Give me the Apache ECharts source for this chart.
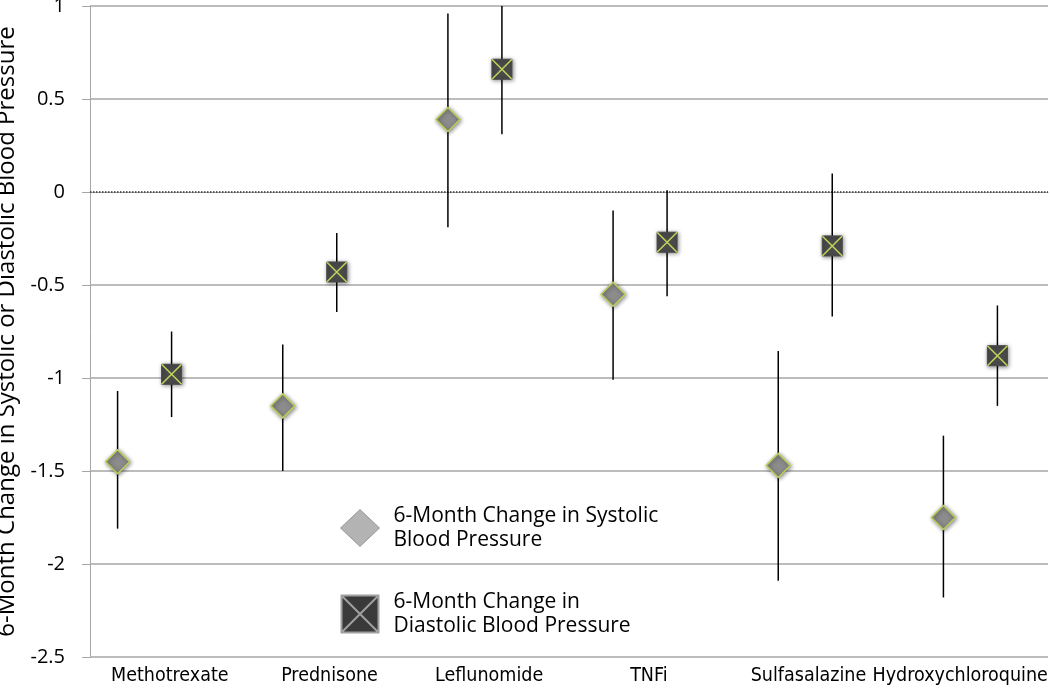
<!DOCTYPE html>
<html>
<head>
<meta charset="utf-8">
<script src="https://cdn.jsdelivr.net/npm/echarts@6/dist/echarts.min.js"></script>
<style>
html,body{margin:0;padding:0;background:#fff;}
#chart{width:1050px;height:689px;}
</style>
</head>
<body>
<div id="chart"></div>
<script>
const categories = ['Methotrexate', 'Prednisone', 'Leflunomide', 'TNFi', 'Sulfasalazine', 'Hydroxychloroquine'];
const systolicMean = [-1.45, -1.15, 0.39, -0.55, -1.47, -1.75];
const systolicLow  = [-1.81, -1.50, -0.19, -1.01, -2.09, -2.18];
const systolicHigh = [-1.07, -0.82, 0.96, -0.10, -0.855, -1.31];
const diastolicMean = [-0.98, -0.43, 0.66, -0.27, -0.29, -0.88];
const diastolicLow  = [-1.21, -0.645, 0.31, -0.56, -0.67, -1.15];
const diastolicHigh = [-0.75, -0.22, 1.0, 0.01, 0.10, -0.61];
const seriesNames = ['6-Month Change in Systolic Blood Pressure', '6-Month Change in Diastolic Blood Pressure'];
const legendLabels = ['6-Month Change in Systolic\nBlood Pressure', '6-Month Change in\nDiastolic Blood Pressure'];
const yAxisTitle = '6-Month Change in Systolic or Diastolic Blood Pressure';

const FONT = 'Open Sans';
const chart = echarts.init(document.getElementById('chart'));

function makeData(mean, low, high) {
  return mean.map((m, i) => [i, m, low[i], high[i]]);
}

function renderer(kind, offset) {
  return function (params, api) {
    const idx = api.value(0);
    const p = api.coord([idx, api.value(1)]);
    const lo = api.coord([idx, api.value(2)]);
    const hi = api.coord([idx, api.value(3)]);
    const cx = p[0] + offset, cy = p[1];
    const children = [{
      type: 'line',
      shape: {x1: cx, y1: lo[1], x2: cx, y2: hi[1]},
      style: {stroke: '#000', lineWidth: 1.5}
    }];
    const shadow = {shadowBlur: 4, shadowColor: 'rgba(0,0,0,0.45)', shadowOffsetX: 1, shadowOffsetY: 1};
    if (kind === 'diamond') {
      const r = 12;
      children.push({
        type: 'polygon',
        shape: {points: [[cx, cy - r], [cx + r, cy], [cx, cy + r], [cx - r, cy]]},
        style: Object.assign({fill: '#8c8c8c', stroke: '#bccd55', lineWidth: 1.5}, shadow)
      });
    } else {
      const h = 10;
      children.push({
        type: 'rect',
        shape: {x: cx - h, y: cy - h, width: 2 * h, height: 2 * h},
        style: Object.assign({fill: '#4a4a4a', stroke: '#4a4a4a', lineWidth: 1}, shadow)
      });
      children.push({
        type: 'path',
        shape: {pathData: `M${cx - h},${cy - h}L${cx + h},${cy + h}M${cx + h},${cy - h}L${cx - h},${cy + h}`},
        style: {fill: null, stroke: '#c3d45a', lineWidth: 1.5}
      });
    }
    return {type: 'group', children: children};
  };
}

const gridLine = '#a6a6a6';
const splitColors = [-2.5, -2, -1.5, -1, -0.5, 0, 0.5, 1].map(v => v === 0 ? 'rgba(0,0,0,0)' : gridLine);

const option = {
  backgroundColor: '#fff',
  animation: false,
  textStyle: {fontFamily: FONT},
  grid: [
    {left: 90, right: 2, top: 6, bottom: 32, outerBoundsMode: 'none', containLabel: false},
    {left: 62, right: -3, top: 6, bottom: 32, outerBoundsMode: 'none', containLabel: false}
  ],
  xAxis: [
    {
      type: 'category', gridIndex: 0,
      data: categories.map((c, i) => i === categories.length - 1
        ? {value: c, textStyle: {padding: [0, 16, 0, 0]}} : c),
      boundaryGap: true,
      axisLine: {show: true, lineStyle: {color: gridLine, width: 1}},
      axisTick: {show: false},
      axisLabel: {fontFamily: 'DejaVu Sans Condensed', fontSize: 19.5, color: '#000', margin: 9, interval: 0}
    },
    {
      type: 'category', gridIndex: 1, data: categories, show: false, boundaryGap: true
    }
  ],
  yAxis: [
    {
      type: 'value', gridIndex: 0, min: -2.5, max: 1, interval: 0.5,
      name: yAxisTitle, nameLocation: 'middle', nameGap: 62,
      nameTextStyle: {fontFamily: FONT, fontSize: 24, color: '#000'},
      axisLine: {show: true, lineStyle: {color: gridLine, width: 1}},
      axisTick: {show: true, length: 8, lineStyle: {color: gridLine}},
      axisLabel: {fontFamily: FONT, fontSize: 20, color: '#000', margin: 25},
      splitLine: {show: true, lineStyle: {color: splitColors, width: 1.5}}
    },
    {
      type: 'value', gridIndex: 1, min: -2.5, max: 1, interval: 0.5, show: false,
      splitLine: {show: false}
    }
  ],
  legend: {
    orient: 'vertical', left: 335, top: 499, itemGap: 38,
    itemWidth: 39, itemHeight: 37,
    textStyle: {fontFamily: FONT, fontSize: 21, color: '#000', lineHeight: 24, padding: [0, 0, 0, 9]},
    formatter: name => legendLabels[seriesNames.indexOf(name)],
    data: [
      {name: seriesNames[0], icon: 'diamond', itemStyle: {color: '#b3b3b3', borderColor: '#9a9a9a', borderWidth: 1}},
      {name: seriesNames[1], icon: 'path://M0,0L32,0L32,32L0,32Z M0,0L32,32 M32,0L0,32',
        itemStyle: {color: '#3a3a3a', borderColor: '#a0a0a0', borderWidth: 2}}
    ]
  },
  series: [
    {
      type: 'line', xAxisIndex: 0, yAxisIndex: 0, data: [], silent: true,
      markLine: {
        silent: true, symbol: 'none', label: {show: false},
        lineStyle: {color: '#333', type: 'dotted', width: 1.5},
        data: [{yAxis: 0}]
      }
    },
    {
      name: seriesNames[0], type: 'custom', xAxisIndex: 1, yAxisIndex: 1,
      renderItem: renderer('diamond', -27),
      encode: {x: 0, y: [1, 2, 3]},
      data: makeData(systolicMean, systolicLow, systolicHigh),
      z: 5
    },
    {
      name: seriesNames[1], type: 'custom', xAxisIndex: 1, yAxisIndex: 1,
      renderItem: renderer('square', 27),
      encode: {x: 0, y: [1, 2, 3]},
      data: makeData(diastolicMean, diastolicLow, diastolicHigh),
      z: 5
    }
  ]
};
chart.setOption(option);
</script>
</body>
</html>
